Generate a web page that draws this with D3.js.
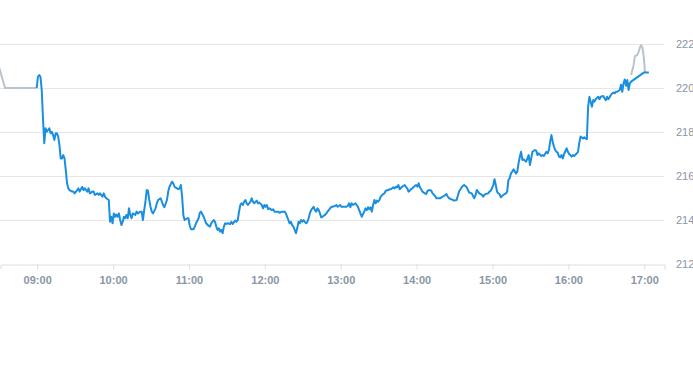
<!DOCTYPE html>
<html><head><meta charset="utf-8">
<script src="https://cdn.jsdelivr.net/npm/d3@7"></script>
<style>html,body{margin:0;padding:0;background:#fff;} svg{display:block;}</style>
</head><body><svg id="c" width="693" height="365"></svg>
<script>
const xTickLabels = ["09:00","10:00","11:00","12:00","13:00","14:00","15:00","16:00","17:00"];
const yTickValues = [212,214,216,218,220,222];

const preMarket = [["08:30",221.00],["08:35",220.00],["09:00",220.00]];

const regularSession = [
["09:00",220.00],["09:01",220.51],["09:02",220.59],["09:03",220.51],["09:04",219.90],["09:05",218.60],["09:06",217.49],["09:07",218.17],["09:08",218.01],["09:09",218.09],
["09:10",218.17],["09:11",217.94],["09:12",218.01],["09:13",217.86],["09:14",217.64],["09:15",217.94],["09:16",217.94],["09:17",217.79],["09:18",217.41],["09:19",216.80],
["09:20",216.80],["09:21",216.95],["09:22",216.80],["09:23",216.27],["09:24",215.67],["09:25",215.44],["09:26",215.36],["09:28",215.29],["09:29",215.29],["09:30",215.21],
["09:32",215.36],["09:33",215.44],["09:34",215.29],["09:36",215.51],["09:37",215.36],["09:38",215.44],["09:40",215.29],["09:41",215.44],["09:42",215.21],["09:44",215.29],
["09:45",215.29],["09:46",215.14],["09:48",215.21],["09:49",215.14],["09:50",215.21],["09:52",215.06],["09:53",215.21],["09:54",215.06],["09:55",214.99],["09:57",214.91],
["09:58",213.92],["09:59",214.15],["10:00",213.85],["10:01",214.30],["10:02",214.15],["10:03",214.25],["10:04",214.15],["10:05",214.30],["10:06",214.00],["10:07",213.77],
["10:08",213.92],["10:09",214.15],["10:10",214.08],["10:11",214.23],["10:12",214.08],["10:13",214.53],["10:14",214.23],["10:15",214.08],["10:16",214.30],["10:18",214.23],
["10:19",214.38],["10:20",214.30],["10:22",214.38],["10:23",214.38],["10:24",214.00],["10:25",214.45],["10:26",214.83],["10:27",215.36],["10:28",215.33],["10:29",214.91],
["10:30",214.60],["10:31",214.38],["10:32",214.30],["10:34",214.53],["10:35",214.76],["10:36",214.91],["10:38",214.99],["10:39",214.83],["10:40",214.68],["10:41",214.58],
["10:43",214.91],["10:44",215.29],["10:45",215.51],["10:47",215.74],["10:48",215.67],["10:49",215.51],["10:51",215.44],["10:52",215.40],["10:53",215.44],["10:54",215.59],
["10:55",215.06],["10:56",214.20],["10:57",214.00],["10:59",214.08],["11:00",214.08],["11:01",213.75],["11:02",213.58],["11:04",213.58],["11:05",213.70],["11:06",213.85],
["11:08",214.08],["11:09",214.33],["11:10",214.38],["11:12",214.15],["11:13",214.00],["11:14",213.85],["11:16",213.73],["11:17",213.70],["11:18",213.85],["11:20",214.00],
["11:21",213.92],["11:22",213.70],["11:23",213.55],["11:24",213.62],["11:25",213.47],["11:26",213.55],["11:27",213.40],["11:28",213.70],["11:29",213.85],["11:30",213.82],
["11:31",213.85],["11:33",213.82],["11:34",213.92],["11:35",213.82],["11:37",213.97],["11:38",213.92],["11:39",214.00],["11:40",214.38],["11:41",214.68],["11:42",214.76],
["11:43",214.68],["11:44",214.83],["11:45",214.91],["11:46",214.76],["11:47",214.68],["11:48",214.76],["11:49",214.83],["11:50",214.99],["11:51",214.83],["11:52",214.76],
["11:54",214.88],["11:55",214.76],["11:56",214.79],["11:58",214.68],["11:59",214.53],["12:00",214.68],["12:01",214.60],["12:02",214.68],["12:03",214.49],["12:04",214.53],
["12:06",214.45],["12:07",214.49],["12:08",214.38],["12:10",214.38],["12:11",214.38],["12:12",214.33],["12:14",214.38],["12:15",214.38],["12:16",214.38],["12:17",214.30],
["12:18",214.15],["12:19",214.00],["12:20",213.85],["12:21",213.92],["12:22",213.77],["12:23",213.70],["12:24",213.55],["12:25",213.40],["12:26",213.62],["12:27",213.92],
["12:28",213.85],["12:29",214.00],["12:30",213.92],["12:31",214.00],["12:32",213.92],["12:33",213.85],["12:34",213.92],["12:35",214.08],["12:36",214.30],["12:37",214.45],
["12:38",214.53],["12:39",214.60],["12:40",214.45],["12:41",214.38],["12:42",214.53],["12:43",214.45],["12:44",214.30],["12:45",214.12],["12:46",214.15],["12:48",214.23],
["12:49",214.30],["12:50",214.38],["12:52",214.53],["12:53",214.60],["12:54",214.60],["12:56",214.64],["12:57",214.68],["12:58",214.60],["13:00",214.68],["13:01",214.60],
["13:02",214.60],["13:04",214.60],["13:05",214.60],["13:06",214.64],["13:07",214.76],["13:08",214.58],["13:09",214.76],["13:10",214.68],["13:12",214.76],["13:13",214.68],
["13:14",214.60],["13:15",214.45],["13:16",214.30],["13:17",214.15],["13:19",214.38],["13:20",214.53],["13:21",214.45],["13:22",214.58],["13:23",214.49],["13:24",214.58],
["13:25",214.38],["13:26",214.68],["13:27",214.91],["13:28",214.76],["13:29",214.88],["13:30",214.83],["13:31",214.91],["13:32",215.06],["13:34",215.18],["13:35",215.21],
["13:36",215.33],["13:38",215.36],["13:39",215.40],["13:40",215.40],["13:42",215.49],["13:43",215.44],["13:44",215.51],["13:45",215.49],["13:46",215.59],["13:47",215.40],
["13:49",215.51],["13:50",215.55],["13:51",215.59],["13:52",215.51],["13:53",215.44],["13:54",215.29],["13:55",215.33],["13:56",215.40],["13:57",215.44],["13:59",215.55],
["14:00",215.59],["14:01",215.51],["14:02",215.67],["14:03",215.49],["14:04",215.40],["14:05",215.29],["14:07",215.21],["14:08",215.18],["14:09",215.33],["14:11",215.36],
["14:12",215.33],["14:13",215.21],["14:15",215.09],["14:16",214.99],["14:17",214.99],["14:19",214.99],["14:20",215.03],["14:21",215.06],["14:22",215.09],["14:24",215.18],
["14:25",215.06],["14:26",214.99],["14:28",214.94],["14:29",214.91],["14:30",214.88],["14:32",214.91],["14:33",215.10],["14:34",215.30],["14:36",215.49],["14:37",215.55],
["14:38",215.59],["14:40",215.49],["14:41",215.36],["14:42",215.25],["14:44",215.21],["14:45",215.09],["14:46",214.99],["14:47",215.14],["14:48",215.36],["14:49",215.29],
["14:50",215.21],["14:52",215.14],["14:53",215.06],["14:54",215.14],["14:55",215.18],["14:57",215.21],["14:58",215.29],["14:59",215.33],["15:00",215.44],["15:01",215.59],
["15:02",215.85],["15:03",215.59],["15:04",215.29],["15:05",215.21],["15:06",215.18],["15:07",215.03],["15:08",215.09],["15:10",215.18],["15:11",215.21],["15:12",215.29],
["15:13",215.82],["15:14",215.90],["15:15",216.12],["15:16",216.20],["15:17",216.30],["15:19",216.12],["15:20",216.20],["15:21",216.58],["15:22",216.88],["15:23",217.10],
["15:24",216.73],["15:25",216.76],["15:26",216.70],["15:27",216.65],["15:28",216.80],["15:29",216.95],["15:30",216.50],["15:31",216.80],["15:32",217.10],["15:34",217.18],
["15:35",217.15],["15:36",216.95],["15:37",217.03],["15:39",216.91],["15:40",216.95],["15:41",216.91],["15:43",217.10],["15:44",217.03],["15:45",217.18],["15:46",217.56],
["15:47",217.86],["15:48",217.56],["15:49",217.33],["15:50",217.18],["15:51",217.10],["15:52",217.06],["15:53",216.88],["15:54",216.85],["15:55",216.95],["15:56",216.80],
["15:57",217.00],["15:59",217.26],["16:00",217.10],["16:01",217.00],["16:02",216.95],["16:03",216.88],["16:04",216.95],["16:05",216.91],["16:07",217.03],["16:08",217.10],
["16:09",217.50],["16:10",217.79],["16:12",217.71],["16:13",217.76],["16:14",217.71],["16:15",217.67],["16:16",219.15],["16:17",219.60],["16:18",219.38],["16:19",219.15],
["16:20",219.45],["16:21",219.38],["16:22",219.49],["16:24",219.60],["16:25",219.49],["16:26",219.60],["16:28",219.64],["16:29",219.53],["16:30",219.45],["16:31",219.60],
["16:32",219.49],["16:33",219.58],["16:34",219.68],["16:35",219.76],["16:36",219.79],["16:37",219.76],["16:38",219.83],["16:39",219.83],["16:41",219.91],["16:42",220.15],
["16:43",219.83],["16:44",220.21],["16:45",220.39],["16:46",220.10],["16:47",220.36],["16:48",219.91],["16:49",220.21],["16:50",220.29],["17:00",220.70],["17:04",220.70]
];

const afterHours = [["16:50",220.59],["16:52",221.05],["16:53",221.45],["16:55",221.50],["16:56",221.65],["16:57",221.85],["16:58",221.95],["16:59",221.82],["17:00",221.40],["17:01",220.72]];

const parse = d3.timeParse("%H:%M");
const svg = d3.select("#c");
const plotRight = 664, plotTop = 44, plotBottom = 264;

const x = d3.scaleTime().domain([parse("08:31"), parse("17:16")]).range([0, plotRight]);
const y = d3.scaleLinear().domain([212, 222]).range([plotBottom, plotTop]);

const labelColor = "#8a96a4";
const gridColor = "#e6e6e6";
const axisColor = "#d8dee6";

// grid
svg.append("g").selectAll("line").data(yTickValues.filter(v => v !== 212)).join("line")
  .attr("x1", 0).attr("x2", plotRight)
  .attr("y1", d => Math.round(y(d)) + 0.5).attr("y2", d => Math.round(y(d)) + 0.5)
  .attr("stroke", gridColor).attr("stroke-width", 1);

// y labels (right)
svg.append("g").selectAll("text").data(yTickValues).join("text")
  .attr("x", 676).attr("y", d => y(d)).attr("dy", "0.35em")
  .attr("fill", labelColor).attr("font-family", "Liberation Sans, Arial, sans-serif")
  .attr("font-size", 11).text(d => d);

// x axis
const xAxis = d3.axisBottom(x).tickValues(xTickLabels.map(parse))
  .tickFormat(d3.timeFormat("%H:%M")).tickSize(5).tickSizeOuter(5).tickPadding(7);
const gx = svg.append("g").attr("transform", `translate(0.5,${plotBottom + 0.5})`).call(xAxis);
gx.select(".domain").attr("stroke", axisColor);
gx.selectAll(".tick line").attr("stroke", axisColor);
gx.selectAll(".tick text").attr("fill", labelColor).attr("font-family", "Liberation Sans, Arial, sans-serif")
  .attr("font-size", 11).attr("font-weight", "bold");

const clip = svg.append("clipPath").attr("id", "pc").append("rect")
  .attr("x", 0).attr("y", 0).attr("width", plotRight).attr("height", plotBottom);

const line = d3.line().x(d => x(parse(d[0]))).y(d => y(d[1]));
const g = svg.append("g").attr("clip-path", "url(#pc)");
g.append("path").datum(preMarket).attr("d", line).attr("fill", "none")
  .attr("stroke", "#b9c3cc").attr("stroke-width", 2).attr("stroke-linejoin", "round");
g.append("path").datum(afterHours).attr("d", line).attr("fill", "none")
  .attr("stroke", "#b9c3cc").attr("stroke-width", 2).attr("stroke-linejoin", "round");
g.append("path").datum(regularSession).attr("d", line).attr("fill", "none")
  .attr("stroke", "#1a8fe0").attr("stroke-width", 2).attr("stroke-linejoin", "round");
</script></body></html>
